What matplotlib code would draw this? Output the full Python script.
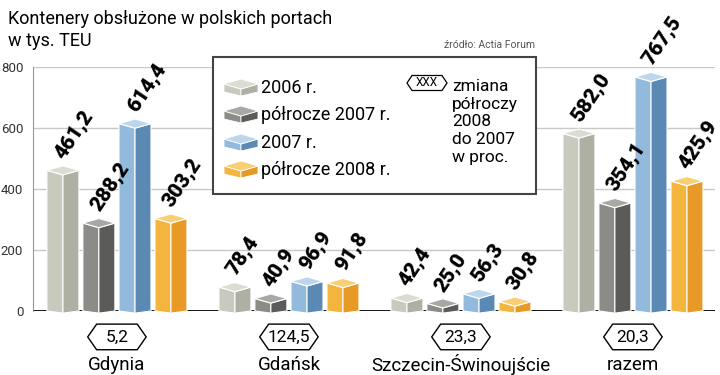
import matplotlib.pyplot as plt
from matplotlib.patches import Polygon, Rectangle

plt.rcParams['font.family'] = ['Roboto', 'DejaVu Sans']

# ── data ────────────────────────────────────────────────────────────────
ports = ["Gdynia", "Gdańsk", "Szczecin-Świnoujście", "razem"]
series_names = ["2006 r.", "półrocze 2007 r.", "2007 r.", "półrocze 2008 r."]
teu_2006 = [461.2, 78.4, 42.4, 582.0]
teu_h1_2007 = [288.2, 40.9, 25.0, 354.1]
teu_2007 = [614.4, 96.9, 56.3, 767.5]
teu_h1_2008 = [303.2, 91.8, 30.8, 425.9]
change_pct = [5.2, 124.5, 23.3, 20.3]
y_ticks = [0, 200, 400, 600, 800]

series = [teu_2006, teu_h1_2007, teu_2007, teu_h1_2008]

# (left face, right face, top face)
colors = [
    ("#c9cabe", "#aeb0a3", "#dddcd2"),
    ("#8b8c87", "#5b5c59", "#a7a8a3"),
    ("#92badc", "#5a89b4", "#bdd6eb"),
    ("#f3b53e", "#e89a26", "#f8cf72"),
]
offsets = [-0.314, -0.105, 0.105, 0.314]
HALF_W = 0.093
D_TOP = 15
D_BOT = 7


def fmt(v):
    return f"{v:.1f}".replace(".", ",")


def box_faces(xc, v, w, d, db):
    left = [(xc - w, 0), (xc - w, v), (xc, v - d), (xc, -db)]
    right = [(xc, -db), (xc, v - d), (xc + w, v), (xc + w, 0)]
    top = [(xc - w, v), (xc, v + d), (xc + w, v), (xc, v - d)]
    return left, right, top


def hexagon(xc, yc, hw, hh, tip):
    return [(xc - hw, yc), (xc - hw + tip, yc + hh), (xc + hw - tip, yc + hh),
            (xc + hw, yc), (xc + hw - tip, yc - hh), (xc - hw + tip, yc - hh)]


fig = plt.figure(figsize=(7.2, 3.75), dpi=100)
ax = fig.add_axes([33 / 720, (375 - 311) / 375, (715 - 33) / 720, (311 - 67) / 375])
ax.set_xlim(-0.488, 3.477)
ax.set_ylim(0, 800)
ax.set_yticks(y_ticks)
ax.set_yticklabels([str(t) for t in y_ticks])
ax.set_xticks([])
ax.tick_params(axis='y', length=0, pad=7, labelsize=9.5, labelcolor='#333333')
for s in ['top', 'right', 'bottom']:
    ax.spines[s].set_visible(False)
ax.spines['left'].set_color('#999999')
ax.yaxis.grid(True, color='#c8c8c8', lw=1)
ax.set_axisbelow(True)
ax.axhline(0, color='black', lw=2, zorder=1)

# ── bars ────────────────────────────────────────────────────────────────
for si, values in enumerate(series):
    cl, cr, ct = colors[si]
    for gi, v in enumerate(values):
        xc = gi + offsets[si]
        left, right, top = box_faces(xc, v, HALF_W, D_TOP, D_BOT)
        for pts, c in [(left, cl), (right, cr), (top, ct)]:
            ax.add_patch(Polygon(pts, closed=True, facecolor=c, edgecolor='white',
                                 lw=0.8, zorder=3, clip_on=False))
        ax.text(xc - 0.02, v + D_TOP + 30, fmt(v), rotation=56, rotation_mode='anchor',
                ha='left', va='center', fontsize=15, fontweight='heavy', zorder=4)

# ── change badges and port names ────────────────────────────────────────
for gi, (name, ch) in enumerate(zip(ports, change_pct)):
    ax.add_patch(Polygon(hexagon(gi, -85, 0.17, 42, 0.052), closed=True,
                         facecolor='white', edgecolor='black', lw=1, clip_on=False))
    ax.text(gi, -85, fmt(ch), ha='center', va='center', fontsize=12.5)
    ax.text(gi, -177, name, ha='center', va='center', fontsize=13.5)

# ── overlay in pixel coordinates: title, source, legend ─────────────────
ov = fig.add_axes([0, 0, 1, 1], zorder=5)
ov.set_xlim(0, 720)
ov.set_ylim(375, 0)
ov.axis('off')
ov.patch.set_alpha(0)

ov.text(8, 19, "Kontenery obsłużone w polskich portach", fontsize=13, va='center')
ov.text(8, 41, "w tys. TEU", fontsize=13, va='center')
ov.text(535, 45, "źródło: Actia Forum", fontsize=7.5, color='#555555', ha='right', va='center')

ov.add_patch(Rectangle((213, 57), 323, 137, facecolor='white', edgecolor='#444444', lw=1.5))
row_y = [87, 114, 142, 169]
for (cl, cr, ct), label, yc in zip(colors, series_names, row_y):
    x0, x1, xm = 224, 258, 241
    top = [(x0, yc - 3), (xm, yc - 8), (x1, yc - 3), (xm, yc + 2)]
    lf = [(x0, yc - 3), (xm, yc + 2), (xm, yc + 9), (x0, yc + 5)]
    rf = [(xm, yc + 2), (x1, yc - 3), (x1, yc + 5), (xm, yc + 9)]
    for pts, c in [(lf, cl), (rf, cr), (top, ct)]:
        ov.add_patch(Polygon(pts, closed=True, facecolor=c, edgecolor='white', lw=0.6))
    ov.text(261, yc + 1, label, fontsize=13, va='center')

ov.add_patch(Polygon(hexagon(427, 83, 20, 7.5, 5), closed=True,
                     facecolor='white', edgecolor='black', lw=0.9))
ov.text(427, 83, "XXX", fontsize=8.5, ha='center', va='center')
ov.text(452, 122, "zmiana\npółroczy\n2008\ndo 2007\nw proc.", fontsize=12.5,
        va='center', linespacing=1.22)

fig.savefig("out.png", dpi=100)
